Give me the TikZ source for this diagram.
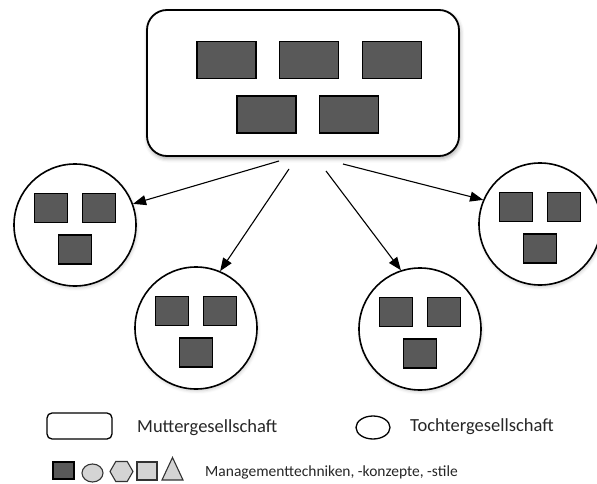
\documentclass[tikz,border=0pt]{standalone}
\usepackage{fontspec}
\setmainfont{Carlito}
\usetikzlibrary{arrows.meta,shapes.geometric,shadows.blur}

\definecolor{blockgray}{HTML}{595959}
\definecolor{lightgray}{HTML}{D4D4D4}

\tikzset{
  parent/.style={draw=black, line width=1.8pt, rounded corners=20pt, fill=white,
    minimum width=312pt, minimum height=146pt, inner sep=0pt,
    blur shadow={shadow xshift=1pt, shadow yshift=-2.5pt, shadow blur radius=4pt, shadow opacity=35}},
  child/.style={draw=black, line width=1.6pt, circle, fill=white, minimum size=122pt, inner sep=0pt,
    blur shadow={shadow xshift=1pt, shadow yshift=-2pt, shadow blur radius=3pt, shadow opacity=20}},
  wideblock/.style={draw=black, line width=1.3pt, fill=blockgray, minimum width=59pt, minimum height=37pt, inner sep=0pt},
  smallblock/.style={draw=black, line width=1.3pt, fill=blockgray, minimum width=33pt, minimum height=29pt, inner sep=0pt},
  link/.style={line width=1.1pt, -{Triangle[length=13pt,width=10pt]}},
  legendtext/.style={anchor=west, inner sep=0pt, font=\fontsize{18.5}{22}\selectfont, text=black!85},
  smalltext/.style={anchor=west, inner sep=0pt, font=\fontsize{15.5}{19}\selectfont, text=black!85},
  lightshape/.style={draw=black!80, line width=1.1pt, fill=lightgray, inner sep=0pt},
}

\begin{document}
\begin{tikzpicture}[x=1pt, y=-1pt]
  \useasboundingbox (0,0) rectangle (597,484);

  % parent company with its management blocks
  \node[parent] (mother) at (303,83) {};
  \node[wideblock] (m1) at (226.5,60) {};
  \node[wideblock] (m2) at (309,60) {};
  \node[wideblock] (m3) at (392,60) {};
  \node[wideblock] (m4) at (266.5,114.5) {};
  \node[wideblock] (m5) at (349,114.5) {};

  % subsidiaries
  \foreach \name/\cx/\cy in {c1/75/225, c2/196/328, c3/540/224, c4/420/329}{
    \node[child] (\name) at (\cx,\cy) {};
    \node[smallblock] (\name a) at (\cx-24,\cy-17) {};
    \node[smallblock] (\name b) at (\cx+24,\cy-17) {};
    \node[smallblock] (\name c) at (\cx,\cy+24.5) {};
  }

  % arrow origins below the parent
  \coordinate (s1) at (279,161);
  \coordinate (s2) at (289,169);
  \coordinate (s3) at (326,171);
  \coordinate (s4) at (343,164);

  \draw[link] (s1) -- (c1.20);
  \draw[link] (s2) -- (c2.67);
  \draw[link] (s3) -- (c4.108);
  \draw[link] (s4) -- (c3.157);

  % legend
  \node[draw=black, line width=1.3pt, rounded corners=5pt, minimum width=65pt, minimum height=26pt, inner sep=0pt] (lmother) at (79.5,426) {};
  \node[legendtext] (tmother) at (137,428) {Muttergesellschaft};
  \node[draw=black, line width=1.3pt, ellipse, minimum width=34pt, minimum height=23pt, inner sep=0pt] (lchild) at (373,427.5) {};
  \node[legendtext] (tchild) at (410,427) {Tochtergesellschaft};

  \node[draw=black, line width=1.2pt, fill=blockgray, minimum width=21pt, minimum height=17pt, inner sep=0pt] (g1) at (63.5,470.5) {};
  \node[lightshape, ellipse, minimum width=21pt, minimum height=18pt] (g2) at (92.5,473) {};
  \node[lightshape, regular polygon, regular polygon sides=6, minimum size=23pt] (g3) at (121.5,471.5) {};
  \node[lightshape, minimum width=20pt, minimum height=18pt] (g4) at (147,471) {};
  \draw[lightshape] (162,480) -- (172.5,457.5) -- (183,480) -- cycle;
  \node[smalltext] (tstyles) at (205,472) {Managementtechniken, -konzepte, -stile};
\end{tikzpicture}
\end{document}
